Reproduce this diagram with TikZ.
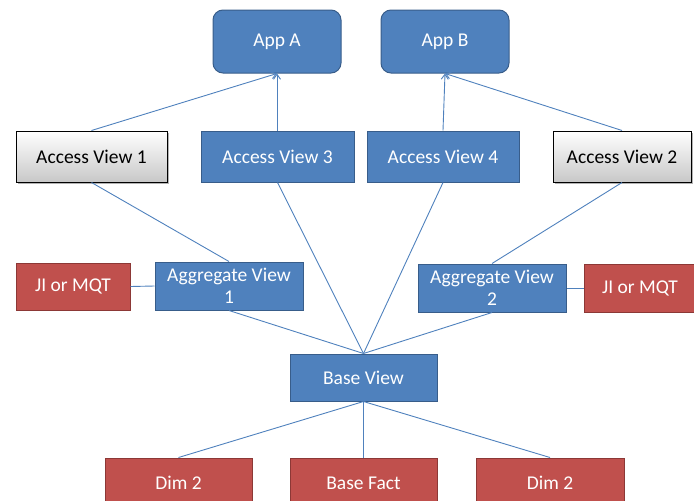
\documentclass[tikz,border=0pt]{standalone}
\usepackage{fontspec}
\setmainfont{Carlito}
\usetikzlibrary{arrows.meta,shadows}
\definecolor{bfill}{HTML}{4F81BD}
\definecolor{bdraw}{HTML}{385D8A}
\definecolor{rfill}{HTML}{C0504D}
\definecolor{rdraw}{HTML}{8C3836}
\definecolor{gtop}{HTML}{FFFFFF}
\definecolor{gbot}{HTML}{C8C8C8}
\definecolor{lnk}{HTML}{4F81BD}
\tikzset{
  box/.style={rectangle, inner sep=0pt, font=\fontsize{19.5}{22}\selectfont, align=center},
  bluebox/.style={box, fill=bfill, draw=bdraw, line width=1pt, text=white},
  redbox/.style={box, fill=rfill, draw=rdraw, line width=1pt, text=white},
  graybox/.style={box, top color=gtop, bottom color=gbot, draw=black, line width=1pt, text=black,
    drop shadow={opacity=0.6, shadow xshift=2pt, shadow yshift=-2pt}},
  appbox/.style={bluebox, rounded corners=10pt},
  link/.style={draw=lnk, line width=0.9pt},
  arr/.style={link, -{Straight Barb[length=5pt,width=7pt]}}
}
\begin{document}
\begin{tikzpicture}[x=1pt,y=-1pt]
\useasboundingbox (0,0) rectangle (694,501);
% apps
\node[appbox, minimum width=128pt, minimum height=63pt] (appA) at (277,41.5) {App A};
\node[appbox, minimum width=128pt, minimum height=63pt] (appB) at (445,41.5) {App B};
% access views
\node[graybox, minimum width=151pt, minimum height=51pt] (av1) at (91.5,156.5) {Access View 1};
\node[bluebox, minimum width=153pt, minimum height=51pt] (av3) at (277.5,156.5) {Access View 3};
\node[bluebox, minimum width=152pt, minimum height=51pt] (av4) at (443,156.5) {Access View 4};
\node[graybox, minimum width=138pt, minimum height=51pt] (av2) at (622,156.5) {Access View 2};
% aggregate row
\node[redbox, minimum width=114pt, minimum height=47pt] (ji1) at (73,286.5) {JI or MQT};
\node[bluebox, minimum width=148pt, minimum height=48pt] (agg1) at (229,286) {Aggregate View\\1};
\node[bluebox, minimum width=148pt, minimum height=48pt] (agg2) at (492,288) {Aggregate View\\2};
\node[redbox, minimum width=112pt, minimum height=48pt] (ji2) at (640,288) {JI or MQT};
% base
\node[bluebox, minimum width=147pt, minimum height=47pt] (base) at (363.5,377.5) {Base View};
% bottom
\node[redbox, minimum width=147pt, minimum height=50pt] (dim1) at (178.5,483) {Dim 2};
\node[redbox, minimum width=147pt, minimum height=50pt] (fact) at (363.5,483) {Base Fact};
\node[redbox, minimum width=148pt, minimum height=50pt] (dim2) at (550,483) {Dim 2};
% arrows to apps
\draw[arr] (av1.north) -- (appA.south);
\draw[arr] (av3.north -| appA.south) -- (appA.south);
\draw[arr] (av4.north) -- (appB.south);
\draw[arr] (av2.north) -- (appB.south);
% lower links
\draw[link] (av1.south) -- (agg1.north);
\draw[link] (av2.south) -- (agg2.north);
\draw[link] (av3.south) -- (base.north);
\draw[link] (av4.south) -- (base.north);
\draw[link] (agg1.south) -- (base.north);
\draw[link] (agg2.south) -- (base.north);
\draw[link] (ji1.east) -- (agg1.west);
\draw[link] (ji2.west) -- (agg2.east);
\draw[link] (base.south) -- (dim1.north);
\draw[link] (base.south) -- (fact.north);
\draw[link] (base.south) -- (dim2.north);
\end{tikzpicture}
\end{document}
